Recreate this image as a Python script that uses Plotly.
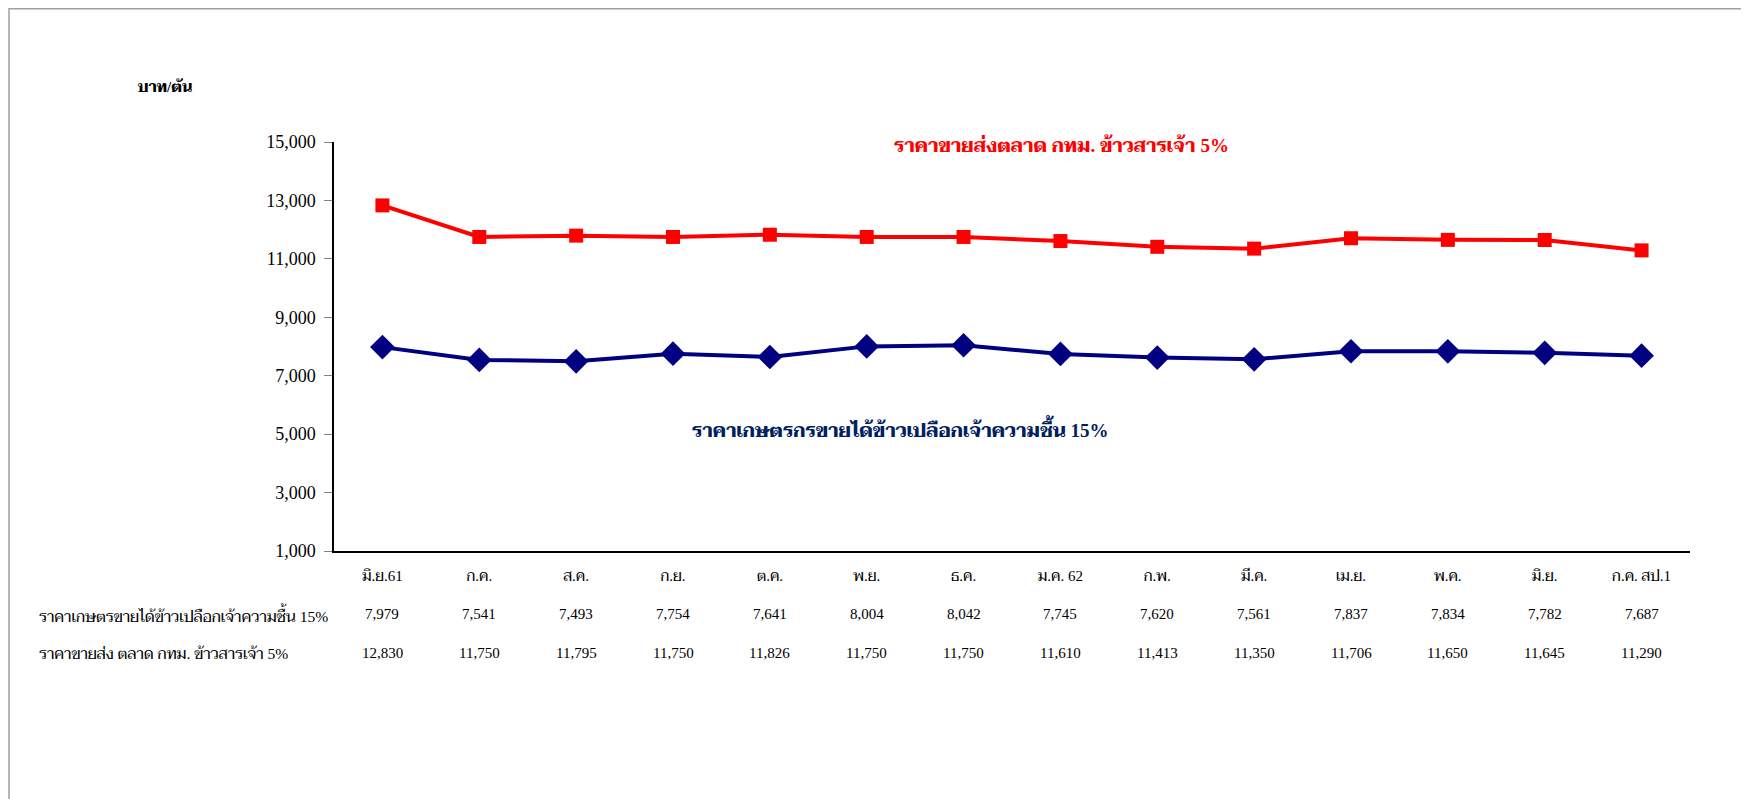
import plotly.graph_objects as go

categories = ["มิ.ย.61", "ก.ค.", "ส.ค.", "ก.ย.", "ต.ค.", "พ.ย.", "ธ.ค.",
              "ม.ค. 62", "ก.พ.", "มี.ค.", "เม.ย.", "พ.ค.", "มิ.ย.", "ก.ค. สป.1"]
farm_price = [7979, 7541, 7493, 7754, 7641, 8004, 8042, 7745, 7620, 7561, 7837, 7834, 7782, 7687]
wholesale_price = [12830, 11750, 11795, 11750, 11826, 11750, 11750, 11610, 11413, 11350, 11706, 11650, 11645, 11290]
y_ticks = [1000, 3000, 5000, 7000, 9000, 11000, 13000, 15000]

farm_name = "ราคาเกษตรกรขายได้ข้าวเปลือกเจ้าความชื้น 15%"
whole_name = "ราคาขายส่งตลาด กทม. ข้าวสารเจ้า 5%"
farm_row = "ราคาเกษตรขายได้ข้าวเปลือกเจ้าความชื้น 15%"
whole_row = "ราคาขายส่ง ตลาด กทม. ข้าวสารเจ้า 5%"
unit = "บาท/ตัน"

FONT = "Liberation Serif, Times New Roman, Taviraj, Trirong, FreeSerif, serif"
RED = "#FF0000"
NAVY = "#000080"

W, H = 1749, 799
OFF = 8  # page body margin
L, T = 334 - OFF, 142 - OFF
pw, ph = 1356, 409
R, B = W - L - pw, H - T - ph

def px(x):
    return (x - OFF - L) / pw

def py(y):
    return (T + ph - (y - OFF)) / ph

xs = list(range(len(categories)))

fig = go.Figure()
fig.add_trace(go.Scatter(
    x=xs, y=wholesale_price, mode="lines+markers", name=whole_name,
    line=dict(color=RED, width=4),
    marker=dict(symbol="square", size=14, color=RED),
))
fig.add_trace(go.Scatter(
    x=xs, y=farm_price, mode="lines+markers", name=farm_name,
    line=dict(color=NAVY, width=4),
    marker=dict(symbol="diamond", size=19, color=NAVY),
))

def note(x, y, text, size, color="black", xanchor="center", xref="paper", yanchor="middle"):
    return dict(xref=xref, yref="paper", x=x, y=y, text=text, showarrow=False,
                xanchor=xanchor, yanchor=yanchor,
                font=dict(family=FONT, size=size, color=color))

ann = [
    note(px(1061), py(145), f"<b>{whole_name}</b>", 19, RED),
    note(px(900), py(428), f"<b>{farm_name}</b>", 19, "#002060"),
    note(px(165), py(86), f"<b>{unit}</b>", 15),
    note(px(37), py(614), farm_row, 15.6, xanchor="left"),
    note(px(37), py(653), whole_row, 15.6, xanchor="left"),
]
for i in xs:
    ann.append(note(i, py(614), f"{farm_price[i]:,}", 15, xref="x"))
    ann.append(note(i, py(653), f"{wholesale_price[i]:,}", 15, xref="x"))

fig.update_layout(
    width=W, height=H,
    margin=dict(l=L, r=R, t=T, b=B),
    paper_bgcolor="white", plot_bgcolor="white",
    showlegend=False,
    font=dict(family=FONT, color="black"),
    annotations=ann,
    shapes=[dict(type="rect", xref="paper", yref="paper",
                 x0=px(9), x1=px(1780), y0=py(830), y1=py(8.8),
                 line=dict(color="#A0A0A0", width=1.5), fillcolor="rgba(0,0,0,0)", layer="below")],
)
fig.update_xaxes(
    range=[-0.5, len(categories) - 0.5],
    tickmode="array", tickvals=xs, ticktext=categories,
    showline=True, linecolor="black", linewidth=1.5,
    ticks="outside", ticklen=10, tickcolor="rgba(0,0,0,0)",
    showgrid=False, zeroline=False,
    tickfont=dict(family=FONT, size=15, color="black"),
)
fig.update_yaxes(
    range=[1000, 15000],
    tickmode="array", tickvals=y_ticks, tickformat=",",
    showline=True, linecolor="black", linewidth=1.5,
    ticks="outside", ticklen=8, tickcolor="#808080", ticklabelstandoff=5,
    showgrid=False, zeroline=False,
    tickfont=dict(family=FONT, size=18, color="black"),
)

fig.write_html("out.html")
